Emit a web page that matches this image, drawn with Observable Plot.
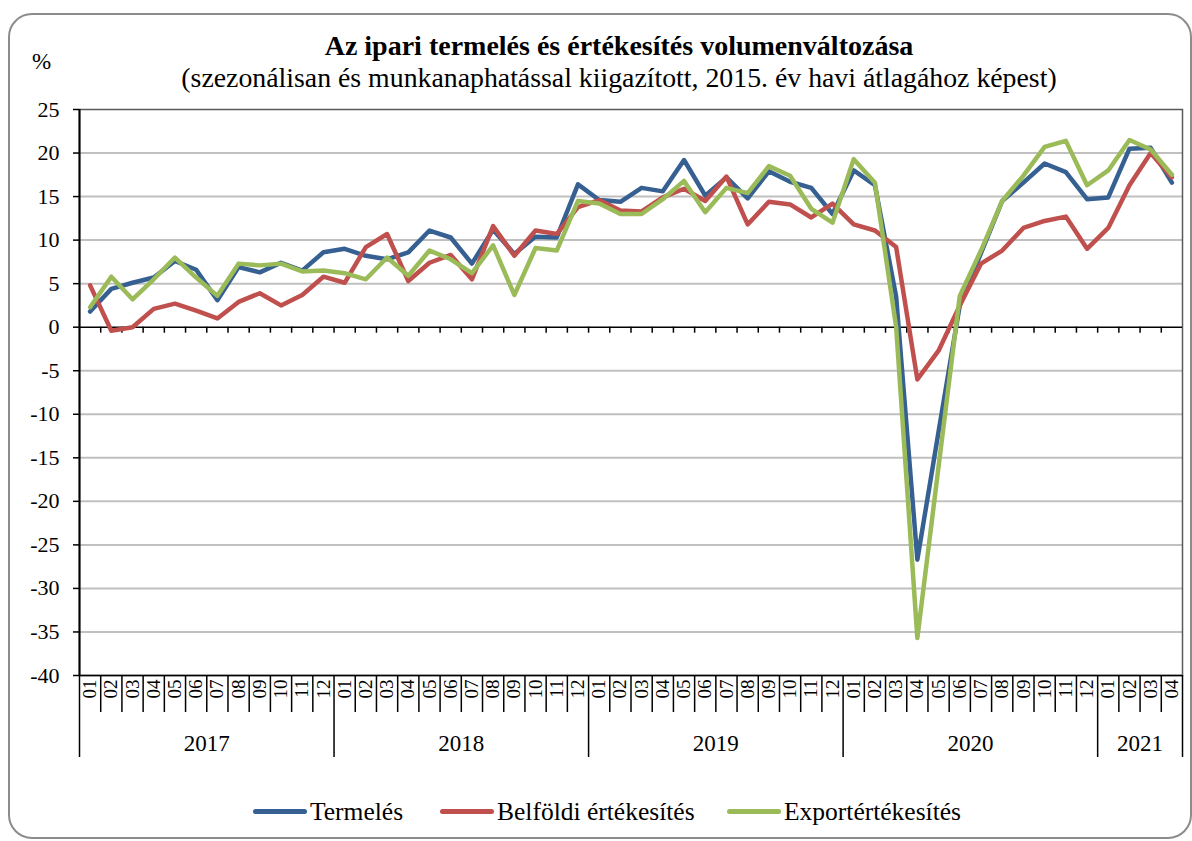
<!DOCTYPE html>
<html>
<head>
<meta charset="utf-8">
<script src="https://cdn.jsdelivr.net/npm/d3@7"></script>
<script src="https://cdn.jsdelivr.net/npm/@observablehq/plot@0.6"></script>
<style>
  html, body { margin: 0; padding: 0; background: #fff; }
  body { width: 1192px; height: 841px; position: relative; overflow: hidden; font-family: "Liberation Serif", "DejaVu Serif", serif; color: #000; }
  #frame { position: absolute; left: 8px; top: 13px; width: 1184px; height: 826px; border: 2px solid #8c8c8c; border-radius: 24px; box-sizing: border-box; }
  .title { position: absolute; left: 619px; transform: translateX(-50%); white-space: nowrap; line-height: 1; }
  #t1 { top: 32px; font-size: 28px; font-weight: bold; }
  #t2 { top: 64px; font-size: 27.8px; }
  #pct { position: absolute; left: 32px; top: 50px; font-size: 23px; line-height: 1; }
  #chart { position: absolute; left: 0; top: 92px; }
  .leg { position: absolute; top: 799px; display: flex; align-items: center; font-size: 25.5px; line-height: 1; white-space: nowrap; }
  .sw { width: 54px; height: 5px; border-radius: 3px; margin-right: 3px; }
</style>
</head>
<body>
<div id="frame"></div>
<div id="pct">%</div>
<div class="title" id="t1">Az ipari termelés és értékesítés volumenváltozása</div>
<div class="title" id="t2">(szezonálisan és munkanaphatással kiigazított, 2015. év havi átlagához képest)</div>
<div id="chart"></div>
<div id="legend"></div>
<script>
// ---- data ----
const monthNames = ["01","02","03","04","05","06","07","08","09","10","11","12"];
const years = ["2017","2018","2019","2020","2021"];
const monthsInYear = [12, 12, 12, 12, 4];
const seriesNames = ["Termelés", "Belföldi értékesítés", "Exportértékesítés"];
const seriesColors = ["#376092", "#C0504D", "#9BBB59"];

const termeles = [
  1.8, 4.4, 5.1, 5.7, 7.6, 6.6, 3.1, 6.9, 6.3, 7.4, 6.5, 8.6,
  9.0, 8.2, 7.8, 8.6, 11.1, 10.3, 7.3, 11.2, 8.4, 10.4, 10.3, 16.4,
  14.6, 14.4, 16.0, 15.6, 19.2, 15.1, 17.2, 14.8, 17.9, 16.7, 16.0, 13.0,
  18.0, 16.3, 3.5, -26.7, -12.0, 2.5, 8.5, 14.5, 16.6, 18.8, 17.8, 14.7,
  14.9, 20.5, 20.6, 16.6
];
const belfoldi = [
  4.8, -0.4, 0.0, 2.1, 2.7, 1.9, 1.0, 2.9, 3.9, 2.5, 3.7, 5.8,
  5.1, 9.2, 10.7, 5.3, 7.4, 8.3, 5.5, 11.6, 8.2, 11.1, 10.7, 13.8,
  14.6, 13.4, 13.3, 14.9, 15.9, 14.5, 17.3, 11.8, 14.4, 14.1, 12.6, 14.2,
  11.8, 11.1, 9.2, -6.0, -2.7, 2.5, 7.3, 8.8, 11.4, 12.2, 12.7, 9.0,
  11.4, 16.3, 20.0, 17.2
];
const exportErt = [
  2.3, 5.8, 3.2, 5.5, 8.0, 5.7, 3.6, 7.3, 7.1, 7.3, 6.4, 6.5,
  6.2, 5.5, 8.0, 5.9, 8.8, 7.8, 6.2, 9.4, 3.7, 9.1, 8.8, 14.5,
  14.2, 13.0, 13.0, 14.7, 16.8, 13.2, 16.0, 15.4, 18.5, 17.4, 13.6, 12.0,
  19.3, 16.6, 0.0, -35.7, -16.0, 3.6, 8.8, 14.5, 17.4, 20.7, 21.4, 16.3,
  18.0, 21.5, 20.4, 17.5
];
const yTicks = [25, 20, 15, 10, 5, 0, -5, -10, -15, -20, -25, -30, -35, -40];

// ---- tables built from the arrays ----
const months = [];
const yearGroups = [];
years.forEach((y, k) => {
  const start = months.length;
  for (let m = 0; m < monthsInYear[k]; m++) months.push({i: months.length, label: monthNames[m]});
  yearGroups.push({year: y, start, end: months.length});
});
const seriesValues = [termeles, belfoldi, exportErt];
const rows = [];
seriesNames.forEach((name, s) => seriesValues[s].forEach((v, i) => rows.push({i, v, series: name})));

const n = months.length;
const monthBounds = d3.range(n + 1).map(k => k - 0.5);
const yearBounds = [-0.5, ...yearGroups.map(g => g.end - 0.5)];
const innerBounds = monthBounds.filter(b => b > -0.5 && b < n - 0.5);
const yMin = d3.min(yTicks), yMax = d3.max(yTicks);

const plot = Plot.plot({
  width: 1192,
  height: 668,
  marginLeft: 79,
  marginRight: 10,
  marginTop: 17,
  marginBottom: 85,
  style: {fontFamily: "'Liberation Serif', serif", color: "#000", background: "transparent", overflow: "visible"},
  x: {type: "linear", domain: [-0.5, n - 0.5], axis: null},
  y: {type: "linear", domain: [yMin, yMax], axis: null},
  color: {domain: seriesNames, range: seriesColors},
  marks: [
    Plot.ruleY(yTicks.filter(t => t !== 0 && t !== yMin && t !== yMax), {stroke: "#c0c0c0", strokeWidth: 2}),
    Plot.frame({stroke: "#595959", strokeWidth: 1.5}),
    Plot.ruleY([yMin], {stroke: "#000", strokeWidth: 1.5}),
    Plot.ruleY([0], {stroke: "#000", strokeWidth: 1.5}),
    Plot.ruleX(innerBounds, {y1: 0, y2: 0, insetBottom: -6, stroke: "#000", strokeWidth: 1.5}),
    Plot.ruleX(monthBounds.filter(b => !yearBounds.includes(b)), {y1: yMin, y2: yMin, insetBottom: -37, stroke: "#000", strokeWidth: 1.5}),
    Plot.ruleX(yearBounds, {y1: yMin, y2: yMin, insetBottom: -82, stroke: "#000", strokeWidth: 1.5}),
    Plot.ruleX([-0.5], {stroke: "#000", strokeWidth: 2}),
    Plot.axisY({ticks: yTicks, label: null, tickSize: 6, tickPadding: 14, fontSize: 22, strokeWidth: 1.5, tickFormat: d => String(d)}),
    Plot.text(months, {x: "i", y: yMin, text: "label", rotate: -90, textAnchor: "end", dy: 4, fontSize: 19, ariaLabel: "month-label"}),
    Plot.text(yearGroups, {x: d => (d.start + d.end - 1) / 2, y: yMin, text: "year", dy: 68, fontSize: 23}),
    Plot.line(rows, {x: "i", y: "v", z: "series", stroke: "series", strokeWidth: 4.5, strokeLinejoin: "round", strokeLinecap: "round"})
  ]
});
plot.querySelectorAll('g[aria-label="month-label"] text').forEach(t => {
  t.setAttribute("textLength", "27");
  t.setAttribute("lengthAdjust", "spacingAndGlyphs");
});
document.getElementById("chart").appendChild(plot);

// legend
const legendLeft = [253, 440, 727];
const legend = document.getElementById("legend");
seriesNames.forEach((name, s) => {
  const item = document.createElement("div");
  item.className = "leg";
  item.style.left = legendLeft[s] + "px";
  const sw = document.createElement("div");
  sw.className = "sw";
  sw.style.background = seriesColors[s];
  item.appendChild(sw);
  const tx = document.createElement("span");
  tx.textContent = name;
  item.appendChild(tx);
  legend.appendChild(item);
});
</script>
</body>
</html>
